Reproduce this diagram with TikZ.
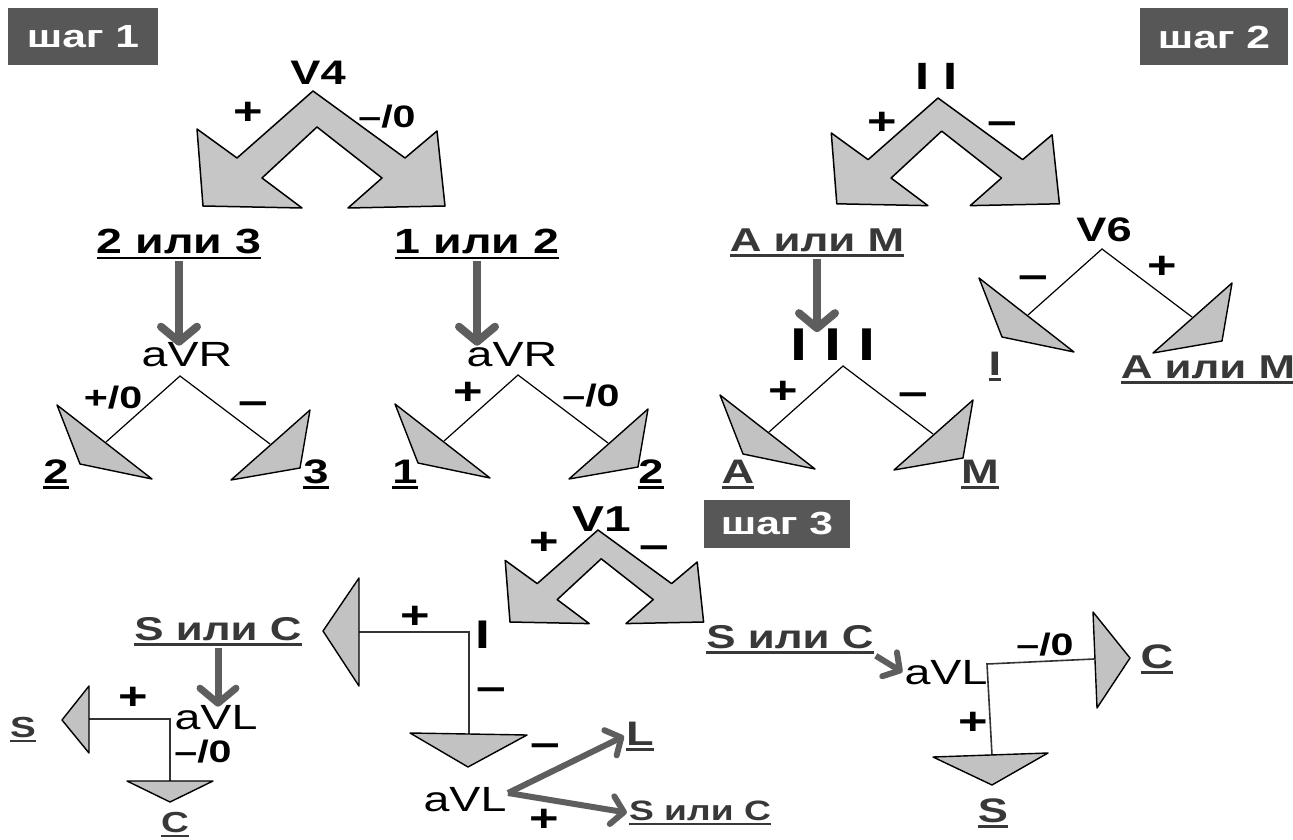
\documentclass[tikz,border=0pt]{standalone}
\usepackage{fontspec}
\setmainfont{Liberation Sans}[FakeStretch=1.33]
\usetikzlibrary{arrows.meta}
\definecolor{boxgray}{HTML}{575757}
\definecolor{arrgray}{HTML}{5E5E5E}
\definecolor{chevgray}{HTML}{C6C6C6}
\definecolor{trigray}{HTML}{C2C2C2}
\definecolor{labgray}{HTML}{383838}
\newcommand\undl[1]{\setbox0\hbox{#1}\rlap{\rule[-0.17em]{\wd0}{0.07em}}\box0}
\begin{document}
\begin{tikzpicture}[x=1pt,y=-1pt,
  stepbox/.style={fill=boxgray,text=white,font=\bfseries\fontsize{32}{32}\selectfont},
  lead/.style={font=\bfseries\fontsize{34}{34}\selectfont,inner sep=2pt},
  avx/.style={font=\fontsize{35}{35}\selectfont,inner sep=2pt},
  big/.style={font=\bfseries\fontsize{35}{35}\selectfont,inner sep=2pt},
  lbl/.style={font=\bfseries\fontsize{33}{33}\selectfont,text=labgray,inner sep=2pt},
  leaf/.style={font=\bfseries\fontsize{34}{34}\selectfont,text=labgray,inner sep=2pt},
  plussign/.style={font=\bfseries\fontsize{38}{38}\selectfont,inner sep=0pt},
  zerosign/.style={font=\bfseries\fontsize{31}{31}\selectfont,inner sep=0pt},
  minsign/.style={font=\bfseries\fontsize{40}{40}\selectfont,inner sep=0pt},
  chev/.style={fill=chevgray,draw=black,line width=1.5pt,line join=round},
  tri/.style={fill=trigray,draw=black,line width=1.4pt,line join=round},
  branch/.style={draw=black,line width=1.2pt},
  wire/.style={draw=black!80,line width=1.6pt},
  garrow/.style={draw=arrgray,line width=8pt,-{Straight Barb[length=15pt,width=36pt,round]}},
  sarrow/.style={draw=arrgray,line width=6pt,-{Straight Barb[length=12pt,width=28pt,round]}},
  fork/.pic={
    \coordinate (-a) at (0,0);
    \coordinate (-l) at (-74,66);
    \coordinate (-r) at (90,68);
    \draw[branch] (-l) -- (-a) -- (-r);
    \filldraw[tri] (-123,29) -- (-100,88) -- (-28,103) -- cycle;
    \filldraw[tri] (130,34) -- (120,92) -- (51,104) -- cycle;
  },
  chevron/.pic={
    \filldraw[chev] (0,0) -- (-76,67) -- (-116,38) -- (-110,115) -- (-11,117) -- (-51,87)
      -- (4,36) -- (69,87) -- (35,117) -- (132,115) -- (124,40) -- (92,67) -- cycle;
  }]
\fill[white] (0,0) rectangle (1293,840);
\useasboundingbox (0,0) rectangle (1293,840);

% шаг 1
\node[stepbox,minimum width=150pt,minimum height=57pt] (s1) at (83,37) {шаг 1};
\pic at (313,91) {chevron};
\node[lead,anchor=base] (v4) at (318,85) {V4};
\node[plussign] at (248,113) {+};
\node[zerosign] at (387,117) {–/0};
\node[big,anchor=base] (or23) at (179,253) {\undl{2 или 3}};
\node[big,anchor=base] (or12) at (477,253) {\undl{1 или 2}};
\node[avx,anchor=base] (avr1) at (187,366) {aVR};
\node[avx,anchor=base] (avr2) at (512,366) {aVR};
\draw[garrow,shorten >=-6pt] (or23.south) -- (or23.south |- avr1.north);
\draw[garrow,shorten >=-6pt] (or12.south) -- (or12.south |- avr2.north);
\pic (f1) at (180,376) {fork};
\node[zerosign] at (113,398) {+/0};
\node[minsign] at (253,408) {–};
\node[leaf,anchor=base,text=black] at (56,483) {\undl{2}};
\node[leaf,anchor=base,text=black] at (316,483) {\undl{3}};
\pic (f2) at (518,375) {fork};
\node[plussign] at (468,393) {+};
\node[zerosign] at (591,396) {–/0};
\node[leaf,anchor=base,text=black] at (405,483) {\undl{1}};
\node[leaf,anchor=base,text=black] at (651,483) {\undl{2}};

% шаг 2
\node[stepbox,minimum width=148pt,minimum height=57pt] (s2) at (1214,37) {шаг 2};
\pic[scale=0.92] at (938,98) {chevron};
\node[lead,font=\bfseries\fontsize{38}{38}\selectfont,anchor=base] (ii) at (937,90) {I I};
\node[plussign] at (882,123) {+};
\node[minsign] at (1002,128) {–};
\node[lbl,anchor=base] (am1) at (817,251) {\undl{A или M}};
\node[lead,font=\bfseries\fontsize{46}{46}\selectfont,anchor=base] (iii) at (833,360) {I I I};
\draw[garrow,shorten >=-6pt] (am1.south) -- (am1.south |- iii.north);
\pic (f3) at (843,366) {fork};
\node[plussign] at (783,392) {+};
\node[minsign] at (913,399) {–};
\node[leaf,anchor=base] at (738,483) {\undl{A}};
\node[leaf,anchor=base] at (980,483) {\undl{M}};
\node[lead,anchor=base] (v6) at (1104,241) {V6};
\pic (f4) at (1102,249) {fork};
\node[minsign] at (1033,282) {–};
\node[plussign] at (1162,267) {+};
\node[leaf,anchor=base] at (995,375) {\undl{I}};
\node[lbl,anchor=base] (am2) at (1208,378) {\undl{A или M}};

% шаг 3
\node[stepbox,minimum width=146pt,minimum height=48pt] (s3) at (777,524) {шаг 3};
\pic[scale=0.8] at (598,530) {chevron};
\node[lead,font=\bfseries\fontsize{36}{36}\selectfont,anchor=base] (v1) at (602,531) {V1};
\node[plussign] at (544,543) {+};
\node[minsign] at (654,552) {–};

% ветвь I
\node[lead,font=\bfseries\fontsize{40}{40}\selectfont,anchor=base] (ld1) at (483,648) {I};
\coordinate (cI) at (469,632);
\coordinate (cIl) at (359,632);
\coordinate (cId) at (469,734);
\draw[wire] (cIl) -- (cI) -- (cId);
\filldraw[tri] (359,578) -- (359,686) -- (323,631) -- cycle;
\filldraw[tri] (410,733) -- (527,735) -- (468,767) -- cycle;
\node[plussign] at (415,617) {+};
\node[minsign] at (491,694) {–};

% I+  ->  S или C -> aVL
\node[lbl,anchor=base] (sc1) at (218,640) {\undl{S или C}};
\node[avx,anchor=base] (avl1) at (216,729) {aVL};
\draw[garrow,line width=7pt,shorten >=-4pt] (sc1.south) -- (sc1.south |- avl1.north);
\coordinate (c1) at (170,719);
\coordinate (c1l) at (89,719);
\coordinate (c1d) at (170,781);
\draw[wire] (c1l) -- (c1) -- (c1d);
\filldraw[tri] (89,686) -- (89,753) -- (62,720) -- cycle;
\filldraw[tri] (127,781) -- (213,781) -- (170,802) -- cycle;
\node[plussign] at (133,698) {+};
\node[zerosign] at (203,752) {–/0};
\node[leaf,anchor=base,font=\bfseries\fontsize{29}{29}\selectfont] at (23,737) {\undl{S}};
\node[leaf,anchor=base,font=\bfseries\fontsize{29}{29}\selectfont] at (175,832) {\undl{C}};

% I-  ->  aVL
\node[avx,anchor=base] (avl2) at (465,811) {aVL};
\coordinate (o2) at (508,793);
\node[leaf,anchor=base] (ll) at (640,745) {\undl{L}};
\node[lbl,anchor=base,font=\bfseries\fontsize{28}{28}\selectfont] (sc2) at (700,820) {\undl{S или C}};
\draw[sarrow] (o2) -- (ll.west);
\draw[sarrow] (o2) -- (sc2.west);
\node[minsign] at (545,750) {–};
\node[plussign] at (544,820) {+};

% V1-  ->  S или C -> aVL
\node[lbl,anchor=base] (sc3) at (790,648) {\undl{S или C}};
\node[avx,anchor=base] (avl3) at (946,684) {aVL};
\draw[sarrow] (sc3.south east) -- (avl3.west);
\coordinate (c3) at (987,664);
\coordinate (c3r) at (1094,659);
\coordinate (c3d) at (992,755);
\draw[wire] (c3r) -- (c3) -- (c3d);
\filldraw[tri] (1093,612) -- (1097,708) -- (1130,658) -- cycle;
\filldraw[tri] (933,757) -- (1048,753) -- (992,785) -- cycle;
\node[zerosign] at (1045,645) {–/0};
\node[plussign] at (973,723) {+};
\node[leaf,anchor=base] at (1157,668) {\undl{C}};
\node[leaf,anchor=base] at (993,822) {\undl{S}};
\end{tikzpicture}
\end{document}
